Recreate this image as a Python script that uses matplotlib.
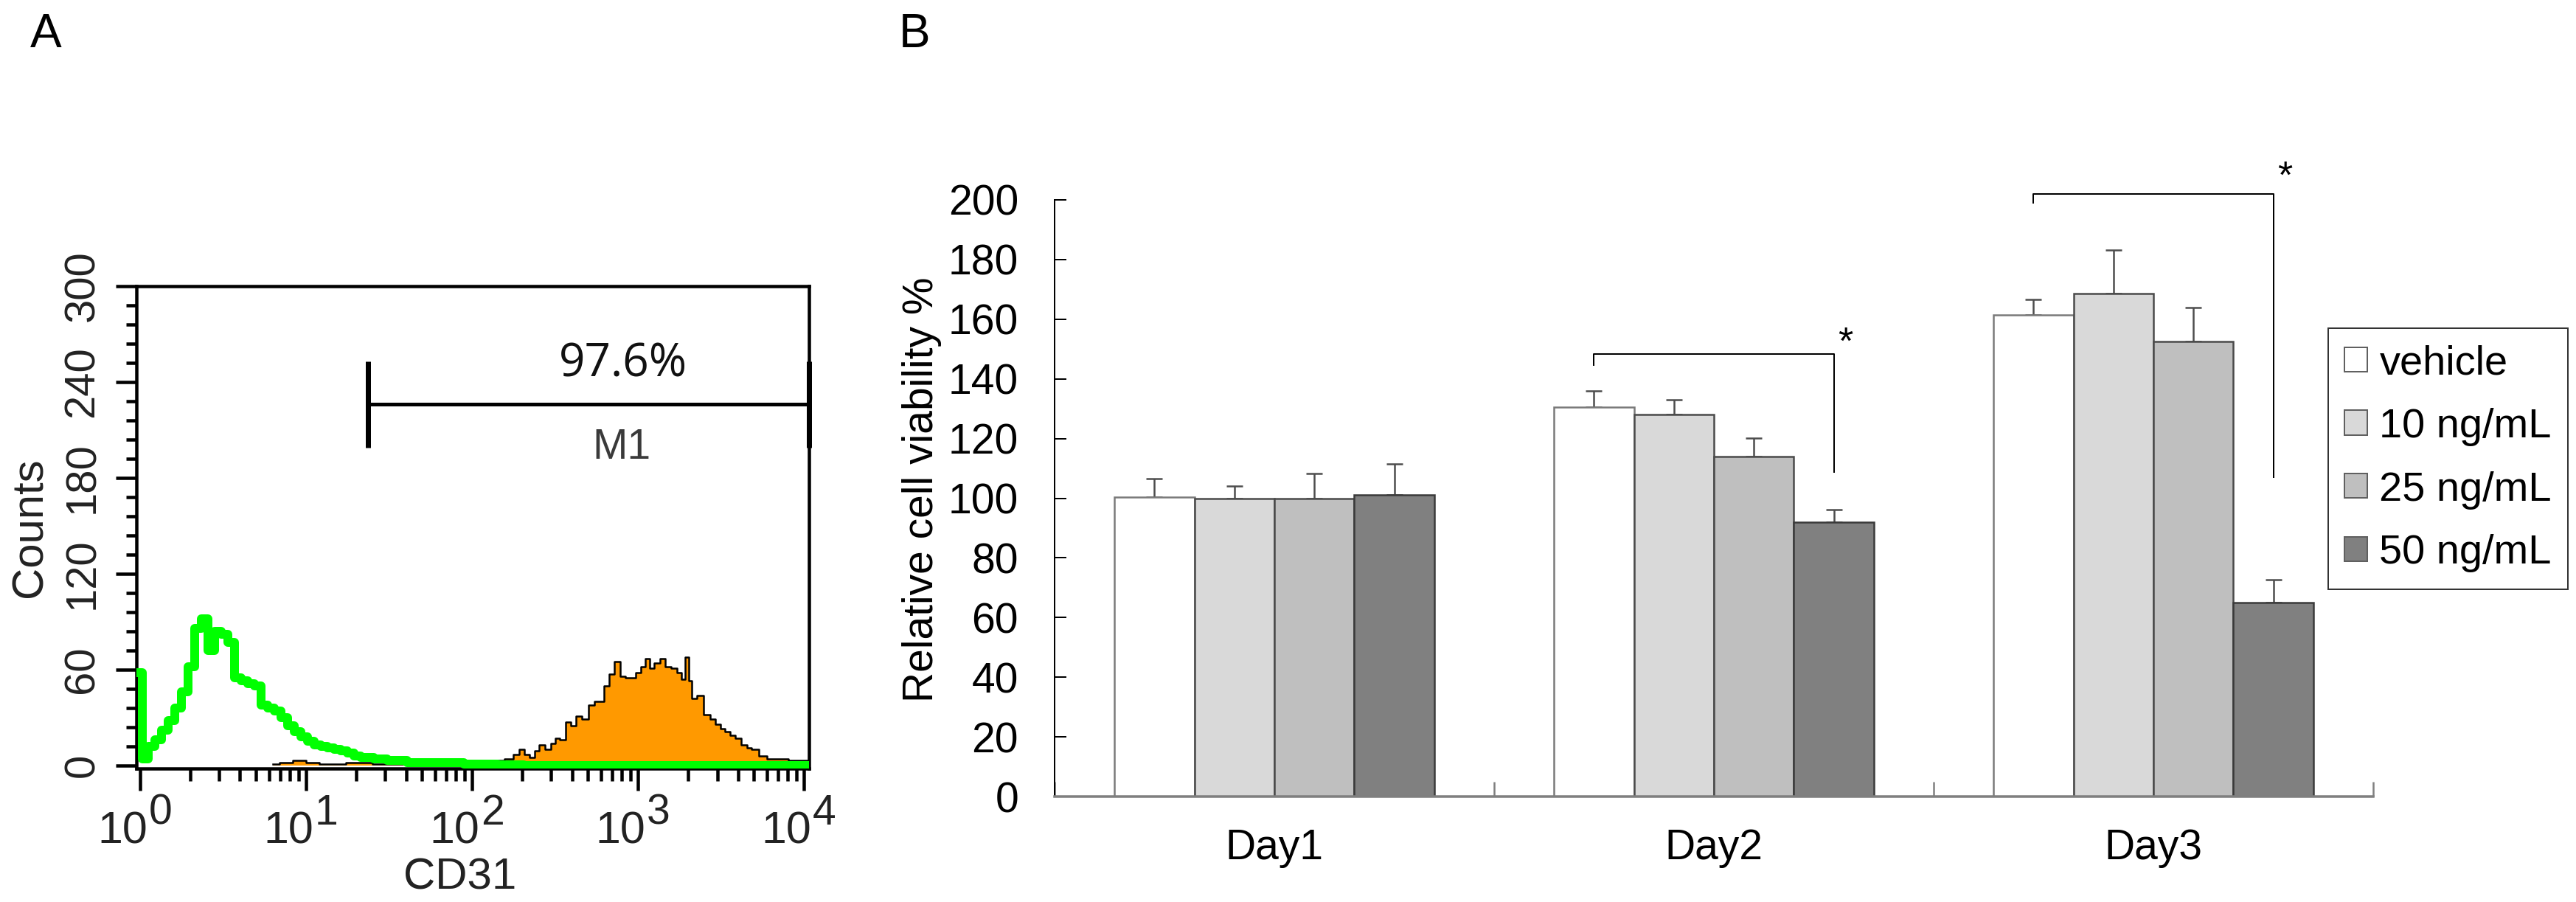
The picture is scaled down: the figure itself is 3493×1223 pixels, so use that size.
import numpy as np
import matplotlib.pyplot as plt
from matplotlib.patches import Patch
from matplotlib.ticker import MultipleLocator, LogLocator, NullFormatter
import matplotlib.transforms as mtransforms

# ---- panel A : CD31 flow cytometry histogram (log10 channel position, counts)
green_log = [0.00, 0.03, 0.07, 0.11, 0.15, 0.19, 0.23, 0.27, 0.31, 0.35, 0.39, 0.43,
             0.47, 0.51, 0.55, 0.59, 0.63, 0.67, 0.71, 0.75, 0.79, 0.83, 0.87, 0.91,
             0.95, 0.99, 1.03, 1.07, 1.11, 1.15, 1.19, 1.23, 1.27, 1.31, 1.35, 1.39,
             1.43, 1.47, 1.51, 1.55, 1.59, 1.63, 1.70, 1.80, 1.90, 2.00, 2.10, 2.20,
             2.40, 2.80, 3.20, 3.60, 4.00, 4.05]
green_counts = [58, 4, 12, 16, 22, 28, 36, 46, 62, 86, 92, 72,
                84, 82, 77, 55, 53, 51, 50, 38, 36, 34, 30, 25,
                21, 18, 15, 13, 12, 11, 10, 9, 8, 6, 5, 5,
                4, 4, 3, 3, 3, 2, 2, 2, 2, 1, 1, 0.5,
                0, 0, 0, 0, 0, 0]

orange_log = [0.80, 0.88, 0.96, 1.04, 1.12, 1.20, 1.28, 1.36, 1.44, 1.52, 1.60, 1.68,
              1.76, 1.84, 1.92, 2.00, 2.08, 2.16, 2.23, 2.27, 2.30, 2.33, 2.36, 2.39,
              2.42, 2.46, 2.49, 2.51, 2.55, 2.58, 2.61, 2.64, 2.68, 2.72, 2.75, 2.78,
              2.81, 2.84, 2.87, 2.91, 2.94, 2.97, 3.00, 3.03, 3.06, 3.08, 3.11, 3.15,
              3.18, 3.22, 3.25, 3.27, 3.30, 3.31, 3.34, 3.37, 3.42, 3.45, 3.48, 3.51,
              3.54, 3.57, 3.60, 3.64, 3.67, 3.70, 3.75, 3.80, 3.87, 3.94, 4.00, 4.05]
orange_counts = [1, 2, 3, 2, 1, 1, 2, 2, 1, 1, 1, 2,
                 1, 2, 2, 3, 3, 3, 4, 7, 10, 7, 5, 9,
                 13, 10, 14, 17, 16, 27, 25, 31, 29, 38, 40, 40,
                 50, 57, 65, 56, 55, 55, 58, 62, 67, 61, 64, 67,
                 62, 61, 58, 54, 68, 53, 42, 44, 32, 29, 26, 23,
                 21, 19, 17, 13, 11, 10, 6, 4, 4, 3, 3, 3]

gate_low = 23.5        # M1 marker start
gate_level = 226       # height of M1 bar
gate_pct = '97.6%'

# ---- panel B : relative cell viability
days = ['Day1', 'Day2', 'Day3']
groups = ['vehicle', '10 ng/mL', '25 ng/mL', '50 ng/mL']
vehicle = [100.4, 130.5, 161.4]
ng10 = [100.0, 128.0, 168.6]
ng25 = [100.0, 113.9, 152.6]
ng50 = [101.2, 91.9, 64.9]
vehicle_err = [6.1, 5.4, 5.2]
ng10_err = [4.2, 5.0, 14.6]
ng25_err = [8.3, 6.3, 11.4]
ng50_err = [10.4, 4.2, 7.7]
sig_day = [1, 2]
sig_top = [148.3, 202.0]
sig_left_end = [144.6, 199.0]
sig_right_end = [108.8, 107.0]
sig_star = [148.3, 204.0]

W, H, DPI = 3493, 1223, 72
fig = plt.figure(figsize=(W / DPI, H / DPI), dpi=DPI)
fig.patch.set_facecolor('white')


def box(l, t, r, b):
    return [l / W, 1 - b / H, (r - l) / W, (b - t) / H]


SANS = ['Liberation Sans', 'DejaVu Sans']
TXT = '#222222'

# ================= panel A
axA = fig.add_axes(box(185, 388, 1097, 1042))
xo = 10 ** np.array(orange_log)
xg = 10 ** np.array(green_log)
axA.fill_between(xo, orange_counts, step='mid', color='#ff9900', lw=0, zorder=2)
axA.plot(xo, orange_counts, drawstyle='steps-mid', color='black', lw=2.5, zorder=3)
axA.plot(xg, green_counts, drawstyle='steps-mid', color='#00ff00', lw=12, zorder=4)

axA.set_xscale('log')
axA.set_xlim(10 ** -0.022, 10 ** 4.03)
axA.set_ylim(-1.85, 300)
axA.xaxis.set_major_locator(LogLocator(base=10, numticks=10))
axA.xaxis.set_minor_locator(LogLocator(base=10, subs=np.arange(2, 10), numticks=20))
axA.xaxis.set_major_formatter(NullFormatter())
axA.xaxis.set_minor_formatter(NullFormatter())
axA.set_yticks(np.arange(0, 301, 60))
axA.yaxis.set_minor_locator(MultipleLocator(12))
axA.tick_params(axis='both', which='major', direction='out', width=4.5, color='black')
axA.tick_params(axis='x', which='major', length=30)
axA.tick_params(axis='x', which='minor', length=17, width=4.5, direction='out')
axA.tick_params(axis='y', which='major', length=28, pad=18, labelsize=58,
                labelrotation=90, labelcolor=TXT)
axA.tick_params(axis='y', which='minor', length=14, width=4.5, direction='out')
for lab in axA.get_yticklabels():
    lab.set_family(SANS)
    lab.set_va('center')
for s in axA.spines.values():
    s.set_linewidth(4.5)
    s.set_color('black')

# x tick labels as 10^n
for k in range(5):
    axA.annotate('10', xy=(10 ** k, 0), xycoords=('data', 'axes fraction'),
                 xytext=(10, -58), textcoords='offset pixels', ha='right', va='top',
                 fontsize=61, family=SANS, color=TXT, annotation_clip=False)
    axA.annotate(str(k), xy=(10 ** k, 0), xycoords=('data', 'axes fraction'),
                 xytext=(12, -34), textcoords='offset pixels', ha='left', va='top',
                 fontsize=57, family=SANS, color=TXT, annotation_clip=False)

axA.set_xlabel('CD31', fontsize=60, family=SANS, color=TXT, ha='center', va='top')
axA.xaxis.set_label_coords(0.481, -0.185)
axA.set_ylabel('Counts', fontsize=60, family=SANS, color=TXT)
axA.yaxis.set_label_coords(-0.128, 0.5)

# M1 marker
tr = mtransforms.blended_transform_factory(axA.transData, axA.transData)
axA.plot([gate_low, 10 ** 4.03], [gate_level, gate_level], color='black', lw=5,
         clip_on=False, zorder=5)
axA.plot([gate_low, gate_low], [gate_level - 27, gate_level + 27], color='black', lw=7,
         solid_capstyle='butt', zorder=5)
axA.plot([10 ** 4.03, 10 ** 4.03], [gate_level - 27, gate_level + 27], color='black',
         lw=7, solid_capstyle='butt', clip_on=False, zorder=5)
axA.text(10 ** 2.91, 243.5, gate_pct, ha='center', va='baseline', fontsize=62,
         family=['Open Sans', 'DejaVu Sans'], color='#111111')
axA.text(10 ** 2.90, 192, 'M1', ha='center', va='baseline', fontsize=57,
         family=SANS, color='#3a3a3a')

# ================= panel B
axB = fig.add_axes(box(1430, 271, 3218, 1080))
xpos = np.arange(len(days)) + 0.5
width = 0.182
series = [vehicle, ng10, ng25, ng50]
errs = [vehicle_err, ng10_err, ng25_err, ng50_err]
faces = ['#ffffff', '#d9d9d9', '#bfbfbf', '#808080']
edges = ['#7a7a7a', '#4a4a4a', '#4a4a4a', '#3a3a3a']
for i in range(4):
    axB.bar(xpos + (i - 1.5) * width, series[i], width, color=faces[i],
            edgecolor=edges[i], linewidth=2.5, zorder=2,
            yerr=[[0] * len(days), errs[i]],
            error_kw=dict(ecolor='#4d4d4d', elinewidth=2.5, capsize=11, capthick=2.5,
                          zorder=1))

axB.set_xlim(0, 3)
axB.set_ylim(0, 200)
axB.set_yticks(np.arange(0, 201, 20))
axB.tick_params(axis='y', direction='in', length=16, width=2, color='black',
                pad=49, labelsize=57)
axB.set_xticks([0, 1, 2, 3])
axB.set_xticklabels([])
axB.tick_params(axis='x', which='major', direction='in', length=20, width=2.5,
                color='#808080')
axB.set_xticks(xpos, minor=True)
axB.set_xticklabels(days, minor=True)
axB.tick_params(axis='x', which='minor', length=0, pad=43, labelsize=57)
for lab in axB.get_yticklabels() + axB.get_xticklabels(minor=True):
    lab.set_family(SANS)
axB.spines['top'].set_visible(False)
axB.spines['right'].set_visible(False)
axB.spines['left'].set_linewidth(2)
axB.spines['left'].set_color('black')
axB.spines['bottom'].set_linewidth(3.5)
axB.spines['bottom'].set_color('#7f7f7f')
axB.set_ylabel('Relative cell viability %', fontsize=57, family=SANS)
axB.yaxis.set_label_coords(-0.0856, 0.515)

for d, top, le, re, st in zip(sig_day, sig_top, sig_left_end, sig_right_end, sig_star):
    xl = xpos[d] - 1.5 * width
    xr = xpos[d] + 1.5 * width
    axB.plot([xl, xl, xr, xr], [le, top, top, re], color='black', lw=2, clip_on=False,
             zorder=3)
    axB.annotate('*', xy=(xr, st), xycoords='data', xytext=(16, 0),
                 textcoords='offset pixels', ha='center', va='baseline', fontsize=52,
                 family=SANS, annotation_clip=False)

handles = [Patch(facecolor=faces[i], edgecolor='#606060', linewidth=2) for i in range(4)]
leg = fig.legend(handles, groups, loc='upper left',
                 bbox_to_anchor=(3157 / W, 1 - 445 / H), borderaxespad=0,
                 fontsize=56, prop={'family': SANS, 'size': 56},
                 handlelength=0.54, handleheight=0.54, handletextpad=0.3,
                 labelspacing=0.6, borderpad=0.4, fancybox=False, frameon=True)
leg.get_frame().set_edgecolor('black')
leg.get_frame().set_linewidth(2)

fig.text(62 / W, 1 - 47 / H, 'A', ha='center', va='center', fontsize=64, family=SANS)
fig.text(1240 / W, 1 - 47 / H, 'B', ha='center', va='center', fontsize=64, family=SANS)

fig.savefig('out.png', dpi=DPI, facecolor='white')
